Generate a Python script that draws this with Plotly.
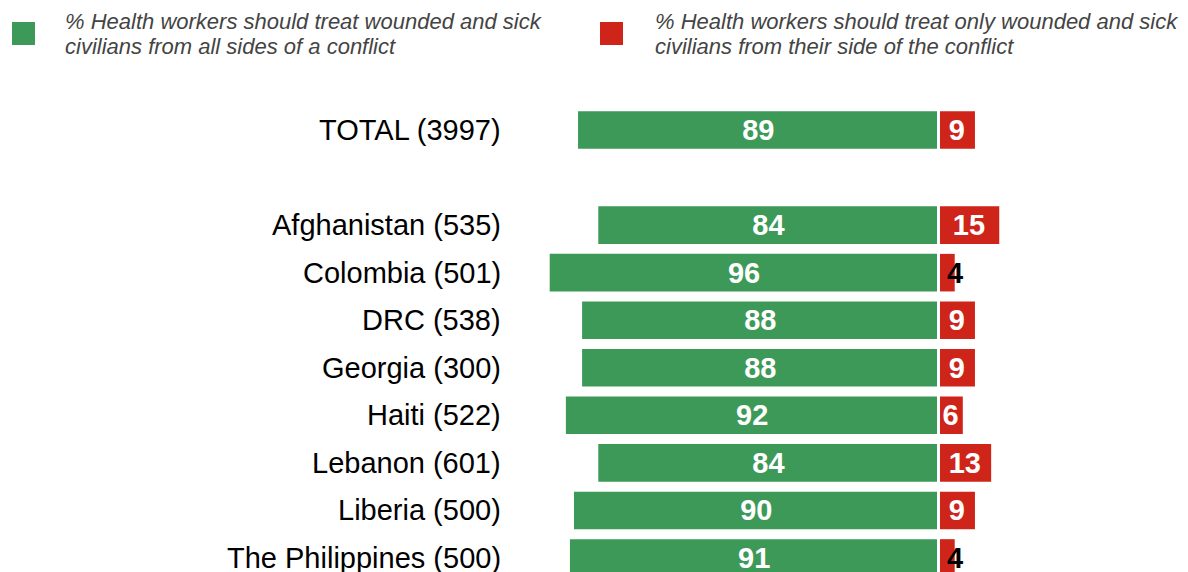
import plotly.graph_objects as go

categories = ["TOTAL (3997)", "", "Afghanistan (535)", "Colombia (501)", "DRC (538)",
              "Georgia (300)", "Haiti (522)", "Lebanon (601)", "Liberia (500)",
              "The Philippines (500)"]
all_sides = [89, None, 84, 96, 88, 88, 92, 84, 90, 91]
own_side = [9, None, 15, 4, 9, 9, 6, 13, 9, 4]
series_lines = [["% Health workers should treat wounded and sick",
                 "civilians from all sides of a conflict"],
                ["% Health workers should treat only wounded and sick",
                 "civilians from their side of the conflict"]]

GREEN = "#3d9957"
RED = "#cf2419"
FONT = "Liberation Sans, Arial, sans-serif"

pos = list(range(len(categories)))
fig = go.Figure()

g_y = [p for p, v in zip(pos, all_sides) if v is not None]
g_x = [-v for v in all_sides if v is not None]
g_t = [str(v) for v in all_sides if v is not None]
fig.add_trace(go.Bar(
    y=g_y, x=g_x, orientation="h", marker=dict(color=GREEN, line=dict(width=0)),
    width=0.79, text=g_t, textposition="inside", insidetextanchor="middle",
    textfont=dict(color="white", size=29, family=FONT, weight="bold"),
    name="all", showlegend=False, cliponaxis=True))

r_y = [p for p, v in zip(pos, own_side) if v is not None]
r_x = [v for v in own_side if v is not None]
r_t = [str(v) if v >= 5 else "" for v in own_side if v is not None]
fig.add_trace(go.Bar(
    y=r_y, x=r_x, orientation="h", marker=dict(color=RED, line=dict(width=0)),
    width=0.79, text=r_t, textposition="inside", insidetextanchor="middle",
    textfont=dict(color="white", size=29, family=FONT, weight="bold"),
    name="own", showlegend=False, cliponaxis=True))

annotations = []
for p, v in zip(pos, own_side):
    if v is not None and v < 5:
        annotations.append(dict(x=v, y=p, xref="x", yref="y", text="<b>%d</b>" % v,
                                showarrow=False, xanchor="center", yanchor="middle",
                                font=dict(color="black", size=29, family=FONT)))

# category labels
for p, c in zip(pos, categories):
    if c:
        annotations.append(dict(x=0, y=p, xref="paper", yref="y", text=c,
                                showarrow=False, xanchor="right", yanchor="middle",
                                xshift=-7,
                                font=dict(color="black", size=29, family=FONT)))

# legend (manual)
W, H = 678.0, 482.0
def px_x(px):
    return (px - 510) / W
def px_y(py):
    return (572 - py) / H

shapes = [
    dict(type="line", xref="x", yref="paper", x0=0, x1=0, y0=0, y1=1,
         line=dict(color="white", width=3), layer="above"),
]
for color, lx, tx, lines in [(GREEN, 12, 65, series_lines[0]), (RED, 600, 655, series_lines[1])]:
    shapes.append(dict(type="rect", xref="paper", yref="paper",
                       x0=px_x(lx), x1=px_x(lx + 23), y0=px_y(45), y1=px_y(22),
                       fillcolor=color, line=dict(width=0)))
    for ly, line in zip([21, 46], lines):
        annotations.append(dict(x=px_x(tx - 2), y=px_y(ly), xref="paper", yref="paper",
                                text="<i>" + line + "</i>", showarrow=False, align="left",
                                xanchor="left", yanchor="middle",
                                font=dict(color="#444444", size=22, family=FONT)))

fig.update_layout(
    width=1180, height=564,
    margin=dict(l=502, r=0, t=82, b=0, pad=0),
    paper_bgcolor="white", plot_bgcolor="white",
    barmode="relative", bargap=0.2,
    showlegend=False,
    uniformtext=dict(minsize=29, mode="show"),
    xaxis=dict(range=[-105.8, 61.6], visible=False, fixedrange=True),
    yaxis=dict(range=[9.295, -0.841], visible=False, fixedrange=True),
    shapes=shapes, annotations=annotations,
)

fig.write_html("out.html")
